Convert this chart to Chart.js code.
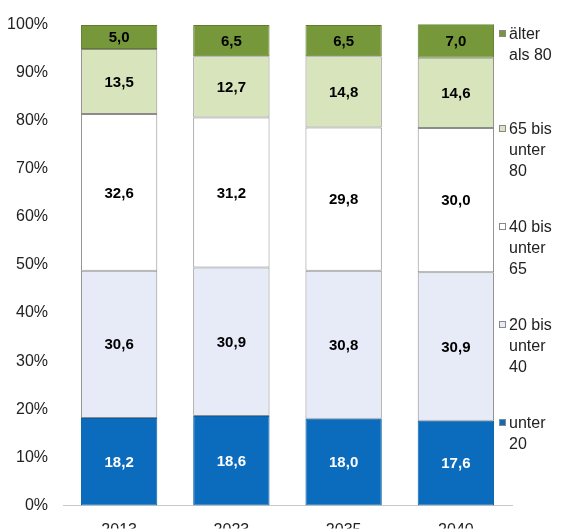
<!DOCTYPE html>
<html lang="de">
<head>
    <meta charset="UTF-8" />
    <title>Altersstruktur</title>
    <script src="https://cdn.jsdelivr.net/npm/chart.js"></script>
    <style>
        body { margin: 0; background: #fff; }
        #wrap { position: relative; width: 563px; height: 530px; }
        #legend {
            position: absolute; left: 499px; top: 23px;
            display: flex; flex-direction: column; gap: 35px;
            font-family: "Liberation Sans", Arial, sans-serif;
            font-size: 16px; line-height: 21px; color: #222;
        }
        #legend .item:first-child { margin-bottom: 18px; }
        .item { display: flex; align-items: flex-start; }
        .box { width: 7px; height: 7px; margin-top: 7px; margin-right: 3px; border: 1px solid #888; box-sizing: border-box; flex: none; }
    </style>
</head>
<body>
    <div id="wrap">
        <canvas id="chart"></canvas>
        <div id="legend"></div>
    </div>

    <script>
        // data
        const years = ["2013", "2023", "2035", "2040"];
        const unter20 = [18.2, 18.6, 18.0, 17.6];
        const von20bis40 = [30.6, 30.9, 30.8, 30.9];
        const von40bis65 = [32.6, 31.2, 29.8, 30.0];
        const von65bis80 = [13.5, 12.7, 14.8, 14.6];
        const ueber80 = [5.0, 6.5, 6.5, 7.0];
        const yTicks = [0, 10, 20, 30, 40, 50, 60, 70, 80, 90, 100];

        const series = [
            { label: ["unter", "20"], data: unter20, color: "#0b6cbd", border: "#0b5fa6", text: "#fff" },
            { label: ["20 bis", "unter", "40"], data: von20bis40, color: "#e6ebf7", border: "#8c8c8c", text: "#000" },
            { label: ["40 bis", "unter", "65"], data: von40bis65, color: "#ffffff", border: "#8c8c8c", text: "#000" },
            { label: ["65 bis", "unter", "80"], data: von65bis80, color: "#d8e4bb", border: "#8c8c8c", text: "#000" },
            { label: ["älter", "als 80"], data: ueber80, color: "#76983a", border: "#5f7d2c", text: "#000" }
        ];

        const font = '"Liberation Sans", Arial, sans-serif';

        const segmentLabels = {
            id: "segmentLabels",
            afterDatasetsDraw(chart) {
                const ctx = chart.ctx;
                ctx.save();
                ctx.font = "bold 15px " + font;
                ctx.textAlign = "center";
                ctx.textBaseline = "middle";
                chart.data.datasets.forEach((ds, i) => {
                    chart.getDatasetMeta(i).data.forEach((bar, j) => {
                        ctx.fillStyle = series[i].text;
                        const v = ds.data[j].toFixed(1).replace(".", ",");
                        ctx.fillText(v, bar.x, (bar.y + bar.base) / 2 + 1);
                    });
                });
                ctx.restore();
            }
        };

        new Chart(document.getElementById("chart"), {
            type: "bar",
            data: {
                labels: years,
                datasets: series.map(s => ({
                    label: s.label.join(" "),
                    data: s.data,
                    backgroundColor: s.color,
                    borderColor: s.border,
                    borderWidth: 1,
                    borderSkipped: false,
                    barPercentage: 0.68,
                    categoryPercentage: 1
                }))
            },
            options: {
                responsive: true,
                maintainAspectRatio: false,
                animation: false,
                layout: { padding: { top: 18, right: 51, left: 0, bottom: 0 } },
                plugins: { legend: { display: false }, tooltip: { enabled: false } },
                scales: {
                    x: {
                        stacked: true,
                        grid: { display: false },
                        border: { color: "#c8c8c8" },
                        ticks: { font: { family: font, size: 16 }, color: "#222", padding: 8 },
                        afterFit(scale) { scale.height = 23; }
                    },
                    y: {
                        stacked: true,
                        min: 0,
                        max: 100,
                        grid: { display: false, drawTicks: false },
                        border: { display: false },
                        afterBuildTicks(scale) { scale.ticks = yTicks.map(v => ({ value: v })); },
                        ticks: {
                            font: { family: font, size: 16 },
                            color: "#222",
                            padding: 15,
                            callback: v => v + "%"
                        },
                        afterFit(scale) { scale.width = 63; }
                    }
                }
            },
            plugins: [segmentLabels]
        });

        // legend, top entry first like the stack
        const legend = document.getElementById("legend");
        series.slice().reverse().forEach(s => {
            const item = document.createElement("div");
            item.className = "item";
            item.innerHTML = `<span class="box" style="background:${s.color}"></span><span>${s.label.join("<br>")}</span>`;
            legend.appendChild(item);
        });
    </script>
</body>
</html>
